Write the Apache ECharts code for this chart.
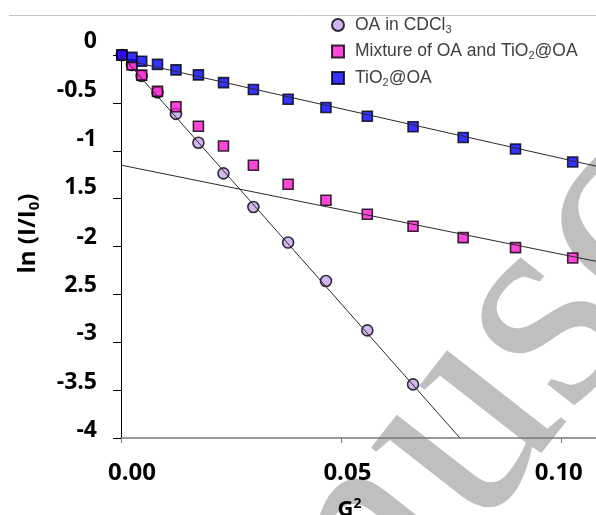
<!DOCTYPE html>
<html>
<head>
<meta charset="utf-8">
<script src="https://cdn.jsdelivr.net/npm/echarts@6/dist/echarts.min.js"></script>
<style>
html,body{margin:0;padding:0;background:#fff;}
#chart{width:596px;height:515px;}
</style>
</head>
<body>
<div id="chart"></div>
<script>
// ---- data ----
const seriesNames = ['OA in CDCl3', 'Mixture of OA and TiO2@OA', 'TiO2@OA'];
const g2 = [0.0002, 0.0025, 0.0047, 0.0083, 0.0125, 0.0176, 0.0233, 0.0301, 0.0380, 0.0466, 0.0560, 0.0664, 0.0778, 0.0897, 0.1027];
const oaValues = [0, -0.105, -0.22, -0.39, -0.615, -0.916, -1.236, -1.587, -1.959, -2.36, -2.876, -3.44];
const mixValues = [0, -0.105, -0.21, -0.38, -0.54, -0.744, -0.95, -1.152, -1.350, -1.517, -1.663, -1.789, -1.907, -2.012, -2.120];
const tioValues = [0, -0.025, -0.065, -0.098, -0.155, -0.208, -0.289, -0.36, -0.462, -0.549, -0.640, -0.749, -0.862, -0.982, -1.117];
// linear fit lines: intercept, slope, x range
const fitIntercepts = [0, -1.15, -0.043];
const fitSlopes = [-51.9, -9.3, -10.35];
const fitXStart = [0, 0, 0];
const fitXEnd = [0.07707, 0.108, 0.108];
const xTickValues = [0, 0.05, 0.10];
const xTickLabels = ['0.00', '0.05', '0.10'];
const yTickValues = [0, -0.5, -1, -1.5, -2, -2.5, -3, -3.5, -4];
const yTickLabels = ['0', '-0.5', '-1', '1.5', '-2', '2.5', '-3', '-3.5', '-4'];

// ---- styling ----
const yLabelExtraLift = [11, 9, 7, 6, 3, 1, 2, 0, 0];
const xLabelPad = [[0,0,0,22],[0,0,0,13],[0,4,0,0]];
const markerColors = ['#c8a2f0', '#ff1ad1', '#0000ff'];
const markerSymbols = ['circle', 'rect', 'rect'];
const markerSizes = [11, 10, 10];

function pairs(xs, ys){ return ys.map((y,i)=>[xs[i], y]); }
const seriesValues = [oaValues, mixValues, tioValues];

const yRich = {};
yLabelExtraLift.forEach((s,i)=>{ yRich['l'+i] = {fontSize:23, fontWeight:'bold', fontFamily:'Open Sans', color:'#000', lineHeight:16, padding:[0,0,s,0]}; });
const xRich = {};
xLabelPad.forEach((p,i)=>{ xRich['x'+i] = {fontSize:24, fontWeight:'bold', fontFamily:'Open Sans', color:'#000', lineHeight:26, padding:p}; });

const legendRich = {
  t: {fontSize:17.5, fontFamily:'Liberation Sans', color:'#404040', lineHeight:20},
  s: {fontSize:11, fontFamily:'Liberation Sans', color:'#404040', lineHeight:12, verticalAlign:'bottom'}
};
const legendText = {
  'OA in CDCl3': '{t|OA in CDCl}{s|3}',
  'Mixture of OA and TiO2@OA': '{t|Mixture of OA and TiO}{s|2}{t|@OA}',
  'TiO2@OA': '{t|TiO}{s|2}{t|@OA}'
};

const series = [];
seriesValues.forEach((vals, i)=>{
  series.push({
    name: seriesNames[i], type:'scatter', z:2,
    symbol: markerSymbols[i], symbolSize: markerSizes[i],
    itemStyle: {color: markerColors[i], borderColor:'#000', borderWidth:1.6},
    data: pairs(g2, vals)
  });
});
fitSlopes.forEach((m,i)=>{
  series.push({
    type:'line', z:3, silent:true, symbol:'none',
    lineStyle:{color:'#2a2a2a', width:1},
    data:[[fitXStart[i], fitIntercepts[i] + m*fitXStart[i]], [fitXEnd[i], fitIntercepts[i] + m*fitXEnd[i]]]
  });
});

const chart = echarts.init(document.getElementById('chart'));
chart.setOption({
  animation:false,
  backgroundColor:'#fff',
  graphic:[
    {type:'text', x:497, y:382, rotation:0.9076, z:-10, silent:true,
     style:{text:'Manuscript', fontSize:300, fontFamily:'Liberation Serif', fill:'#bfbfbf',
            textAlign:'center', textVerticalAlign:'middle', align:'center', verticalAlign:'middle'}},
    {type:'line', z:5, silent:true, shape:{x1:9, y1:15.5, x2:596, y2:15.5}, style:{stroke:'#c6c6c6', lineWidth:1}}
  ],
  grid:{left:121, top:55, right:0, bottom:77, containLabel:false, outerBoundsMode:'none'},
  legend:{
    orient:'vertical', left:326, top:11, padding:5, itemWidth:12, itemHeight:12, itemGap:7.5,
    data: seriesNames,
    formatter: n => legendText[n],
    textStyle:{rich:legendRich, padding:[0,0,0,6]}
  },
  xAxis:{
    type:'value', min:0, max:0.108, interval:0.05,
    axisLine:{onZero:false, lineStyle:{color:'#7a7a7a', width:1.6}},
    axisTick:{show:true, inside:false, length:5, lineStyle:{color:'#7a7a7a'}},
    splitLine:{show:false},
    axisLabel:{margin:22, showMaxLabel:false, showMinLabel:true, hideOverlap:false,
      formatter: v => { const k = xTickValues.findIndex(t=>Math.abs(t-v)<1e-9); return k<0 ? '' : '{x'+k+'|'+xTickLabels[k]+'}'; },
      rich:xRich},
    name:'{g|G}{s|2}', nameLocation:'middle', nameGap:59,
    nameTextStyle:{rich:{
      g:{fontSize:22, fontWeight:'bold', fontFamily:'Open Sans', color:'#000', lineHeight:26},
      s:{fontSize:14, fontWeight:'bold', fontFamily:'Open Sans', color:'#000', lineHeight:26, verticalAlign:'top', padding:[0,18,0,0]}
    }}
  },
  yAxis:{
    type:'value', min:-4, max:0, interval:0.5,
    axisLine:{show:true, onZero:false, lineStyle:{color:'#000', width:1}},
    axisTick:{show:true, inside:false, length:8, lineStyle:{color:'#000'}},
    splitLine:{show:false},
    axisLabel:{margin:24, showMaxLabel:true, showMinLabel:true, hideOverlap:false, verticalAlign:'bottom',
      formatter: v => { const k = yTickValues.findIndex(t=>Math.abs(t-v)<1e-9); return k<0 ? '' : '{l'+k+'|'+yTickLabels[k]+'}'; },
      rich:yRich},
    name:'{b|ln (I/I}{s|0}{b|)}', nameLocation:'middle', nameRotate:90, nameGap:79,
    nameTextStyle:{padding:[0,0,0,26], rich:{
      b:{fontSize:24, fontWeight:'bold', fontFamily:'Open Sans', color:'#000', lineHeight:28},
      s:{fontSize:15, fontWeight:'bold', fontFamily:'Open Sans', color:'#000', lineHeight:16, verticalAlign:'bottom'}
    }}
  },
  series: series
});
</script>
</body>
</html>
